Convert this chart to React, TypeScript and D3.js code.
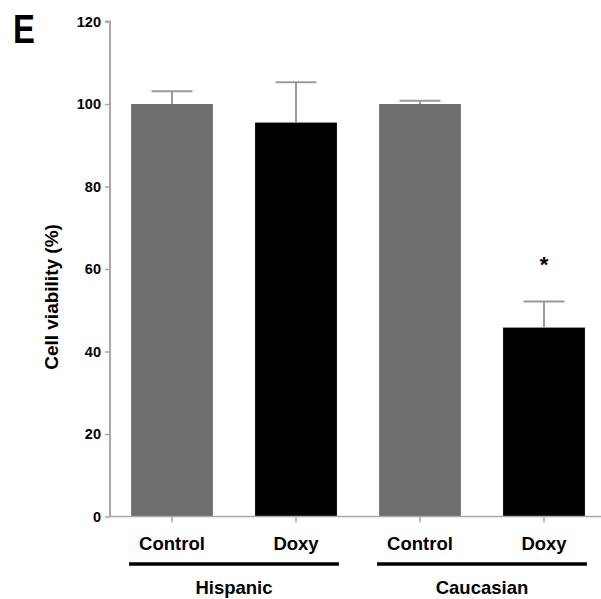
import React, { useEffect, useRef } from 'react';
import * as d3 from 'd3';

// data
const categories = ['Control', 'Doxy', 'Control', 'Doxy'];
const groupOf = ['Hispanic', 'Hispanic', 'Caucasian', 'Caucasian'];
const groups = ['Hispanic', 'Caucasian'];
const means = [100, 95.5, 100, 45.8];
const errors = [3.1, 9.8, 0.8, 6.3];
const barColors = ['#6e6e6e', '#000000', '#6e6e6e', '#000000'];
const yTicks = [0, 20, 40, 60, 80, 100, 120];
const significant = [false, false, false, true];

const App = () => {
  const ref = useRef<SVGSVGElement | null>(null);

  useEffect(() => {
    const width = 601;
    const height = 599;
    const axisX = 110;

    const svg = d3.select(ref.current);
    svg.selectAll('*').remove();
    svg.attr('width', width).attr('height', height);

    const font = 'Liberation Sans, Arial, sans-serif';

    // scales
    const x = d3
      .scaleBand<number>()
      .domain(d3.range(categories.length))
      .range([axisX, 606])
      .paddingInner(0.34)
      .paddingOuter(0.17);
    const y = d3.scaleLinear().domain([0, 120]).range([516.5, 21.5]);

    // panel letter (narrow, as in the figure)
    svg
      .append('text')
      .attr('transform', 'translate(13,43) scale(0.8,1)')
      .attr('font-family', font)
      .attr('font-weight', 'bold')
      .attr('font-size', 41)
      .text('E');

    // bars
    svg
      .selectAll('rect.bar')
      .data(means)
      .enter()
      .append('rect')
      .attr('class', 'bar')
      .attr('x', (_, i) => x(i)!)
      .attr('width', x.bandwidth())
      .attr('y', d => y(d))
      .attr('height', d => y(0) - y(d))
      .attr('fill', (_, i) => barColors[i]);

    // error bars (upper only)
    const err = svg
      .selectAll('g.err')
      .data(means)
      .enter()
      .append('g')
      .attr('class', 'err')
      .attr('stroke', '#9a9a9a')
      .attr('stroke-width', 2);
    err
      .append('line')
      .attr('x1', (_, i) => x(i)! + x.bandwidth() / 2)
      .attr('x2', (_, i) => x(i)! + x.bandwidth() / 2)
      .attr('y1', d => y(d))
      .attr('y2', (d, i) => y(d + errors[i]));
    err
      .append('line')
      .attr('x1', (_, i) => x(i)! + x.bandwidth() / 4)
      .attr('x2', (_, i) => x(i)! + (x.bandwidth() * 3) / 4)
      .attr('y1', (d, i) => y(d + errors[i]))
      .attr('y2', (d, i) => y(d + errors[i]));

    // significance star
    svg
      .selectAll('text.star')
      .data(means.map((m, i) => ({ m, i })).filter(d => significant[d.i]))
      .enter()
      .append('text')
      .attr('class', 'star')
      .attr('x', d => x(d.i)! + x.bandwidth() / 2)
      .attr('y', 272)
      .attr('text-anchor', 'middle')
      .attr('font-family', font)
      .attr('font-weight', 'bold')
      .attr('font-size', 22)
      .text('*');

    // y axis
    const yAxis = svg
      .append('g')
      .attr('transform', `translate(${axisX},0)`)
      .call(
        d3
          .axisLeft(y)
          .tickValues(yTicks)
          .tickSize(5)
          .tickPadding(4)
          .tickFormat(d3.format('d'))
      );
    yAxis.select('.domain').attr('stroke', '#a8a8a8').attr('stroke-width', 2).attr('d', `M-5,${y(120)}H0V${y(0)}`);
    yAxis.selectAll('.tick line').attr('stroke', '#a8a8a8').attr('stroke-width', 1.5);
    yAxis
      .selectAll('.tick text')
      .attr('font-family', font)
      .attr('font-weight', 'bold')
      .attr('font-size', 14.5)
      .attr('fill', '#000');

    // x axis baseline and ticks
    const xAxis = svg
      .append('g')
      .attr('transform', `translate(0,${y(0)})`)
      .call(d3.axisBottom(x).tickSize(6).tickFormat(() => ''));
    xAxis.select('.domain').attr('stroke', '#a8a8a8').attr('stroke-width', 1.5).attr('d', `M${axisX},0H606`);
    xAxis.selectAll('.tick line').attr('stroke', '#a8a8a8').attr('stroke-width', 1.5);

    // category labels
    svg
      .selectAll('text.cat')
      .data(categories)
      .enter()
      .append('text')
      .attr('class', 'cat')
      .attr('x', (_, i) => x(i)! + x.bandwidth() / 2)
      .attr('y', 550)
      .attr('text-anchor', 'middle')
      .attr('font-family', font)
      .attr('font-weight', 'bold')
      .attr('font-size', 18.5)
      .text(d => d);

    // group lines and labels
    groups.forEach(g => {
      const idx = d3.range(categories.length).filter(i => groupOf[i] === g);
      const x0 = x(idx[0])! - 2;
      const x1 = x(idx[idx.length - 1])! + x.bandwidth() + 2;
      svg
        .append('line')
        .attr('x1', x0)
        .attr('x2', x1)
        .attr('y1', 564)
        .attr('y2', 564)
        .attr('stroke', '#000')
        .attr('stroke-width', 3.5);
      svg
        .append('text')
        .attr('x', (x0 + x1) / 2)
        .attr('y', 594)
        .attr('text-anchor', 'middle')
        .attr('font-family', font)
        .attr('font-weight', 'bold')
        .attr('font-size', 18.5)
        .text(g);
    });

    // y label
    svg
      .append('text')
      .attr('transform', 'translate(58,297) rotate(-90)')
      .attr('text-anchor', 'middle')
      .attr('font-family', font)
      .attr('font-weight', 'bold')
      .attr('font-size', 19)
      .text('Cell viability (%)');
  }, []);

  return (
    <div style={{ position: 'absolute', left: 0, top: 0 }}>
      <svg ref={ref} style={{ display: 'block' }}></svg>
    </div>
  );
};

export default App;
